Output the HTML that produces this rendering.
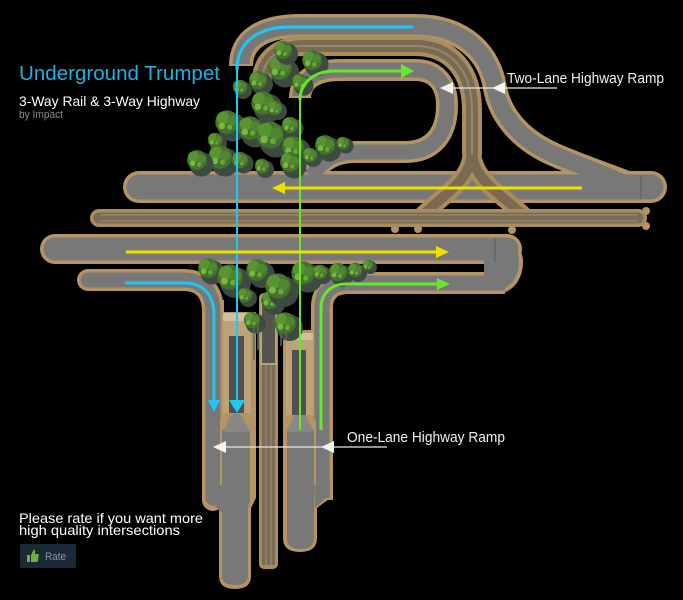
<!DOCTYPE html>
<html><head><meta charset="utf-8"><style>html,body{margin:0;padding:0;background:#000;}svg{display:block}</style></head>
<body>
<svg width="683" height="600" viewBox="0 0 683 600" xmlns="http://www.w3.org/2000/svg" font-family="'Liberation Sans', 'DejaVu Sans', sans-serif">
<defs>
<g id="tr">
<circle cx="4" cy="4" r="11" fill="#3d4a41"/>
<circle cx="0" cy="0" r="9" fill="#44742c"/>
<circle cx="-3" cy="-3" r="5" fill="#5a9432"/>
<circle cx="4" cy="-1" r="4" fill="#508631"/>
<circle cx="-4" cy="3" r="2.5" fill="#78b83e"/>
<circle cx="2" cy="4" r="2" fill="#6aa638"/>
</g>
</defs>
<rect width="683" height="600" fill="#000"/>

<!-- ===== TAN LAYER ===== -->
<g fill="none" stroke="#b39462">
  <line x1="139" y1="187" x2="651" y2="187" stroke-width="32" stroke-linecap="round"/>
  <path d="M241,66 C241,40 262,26 300,26 L415,26 C465,26 490,55 495,88 C500,115 520,140 555,155 C585,168 605,174 630,184" stroke-width="24"/>
  <path d="M300,98 C300,80 315,70 340,70 L415,70 C437,70 447,85 447,105 C447,135 432,152 405,152 L355,152 C335,152 322,160 312,174" stroke-width="22"/>
  <line x1="55" y1="249" x2="507" y2="249" stroke-width="30" stroke-linecap="round"/>
  <path d="M88,280 L183,280 C203,280 213,292 213,312 L213,500" stroke-width="22" stroke-linecap="round"/>
  <path d="M322,500 L322,307 C322,292 332,283 348,283 L505,283" stroke-width="22"/>
</g>
<path d="M484,234 L495,234 C515,234 523,250 523,262 C523,280 512,294 495,294 L484,294 Z" fill="#b39462"/>
<path d="M202,300 L224,300 L224,312 L256,312 L256,498 L251,508 L251,576 Q251,589 235,589 Q219,589 219,576 L219,510 L202,498 Z" fill="#b39462"/>
<path d="M283,330 L313,330 L313,300 L333,300 L333,496 L317,508 L317,538 Q317,552 300,552 Q283,552 283,538 Z" fill="#b39462"/>

<!-- ===== GRAY LAYER ===== -->
<g fill="none" stroke="#787878">
  <path d="M241,64 C241,40 262,26 300,26 L415,26 C465,26 490,55 495,88 C500,115 520,140 555,155 C585,168 605,174 630,186" stroke-width="17"/>
  <line x1="139" y1="187" x2="651" y2="187" stroke-width="25" stroke-linecap="round"/>
  <path d="M300,96 C300,80 315,70 340,70 L415,70 C437,70 447,85 447,105 C447,135 432,152 405,152 L355,152 C335,152 322,160 312,176" stroke-width="15"/>
  <line x1="55" y1="249" x2="507" y2="249" stroke-width="23" stroke-linecap="round"/>
  <path d="M88,280 L183,280 C203,280 213,292 213,312 L213,498" stroke-width="15" stroke-linecap="round"/>
  <path d="M322,498 L322,307 C322,292 332,283 348,283 L505,283" stroke-width="15"/>
</g>
<path d="M484,238 L495,238 C512,238 519,250 519,262 C519,277 510,290 495,290 L484,290 Z" fill="#787878"/>
<line x1="495" y1="238" x2="495" y2="262" stroke="#5d6a70" stroke-width="1.5"/>
<line x1="641" y1="175" x2="641" y2="199" stroke="#5d6a70" stroke-width="1.5"/>

<!-- stems gray -->
<path d="M222,430 L250,430 L250,500 L248,508 L248,576 Q248,585 235,585 Q222,585 222,576 Z" fill="#787878"/>
<path d="M206,480 L224,480 L224,512 L221,512 L206,497 Z" fill="#787878"/>
<path d="M224,432 L229,418 Q236,408 243,418 L250,432 Z" fill="#878787"/>
<rect x="223" y="313" width="28" height="100" fill="#bba47a"/>
<rect x="223" y="313" width="28" height="8" fill="#cfc0a0"/>
<rect x="229" y="336" width="15" height="77" fill="#505050"/>
<line x1="221" y1="420" x2="221" y2="485" stroke="#b39462" stroke-width="2"/>

<path d="M287,430 L314,430 L314,538 Q314,549 300,549 Q287,549 287,538 Z" fill="#787878"/>
<path d="M314,480 L330,480 L330,494 L315,508 Z" fill="#787878"/>
<path d="M287,432 L293,418 Q300,408 307,418 L314,432 Z" fill="#878787"/>
<rect x="286" y="333" width="27" height="82" fill="#bba47a"/>
<rect x="286" y="333" width="27" height="7" fill="#cfc0a0"/>
<rect x="292" y="350" width="14" height="65" fill="#505050"/>
<line x1="315" y1="420" x2="315" y2="485" stroke="#b39462" stroke-width="2"/>

<!-- center rail stem -->
<rect x="259" y="293" width="19" height="276" rx="5" fill="#a88d5e"/>
<rect x="262" y="365" width="13" height="200" fill="#7d6c55"/>
<line x1="266" y1="365" x2="266" y2="565" stroke="#9c8f7a" stroke-width="1"/>
<line x1="271" y1="365" x2="271" y2="565" stroke="#9c8f7a" stroke-width="1"/>
<rect x="261" y="296" width="15" height="68" fill="#55554d" stroke="#b8a27a" stroke-width="2"/>

<!-- ===== RAIL ===== -->
<g fill="none" stroke-linecap="butt">
  <path d="M262,80 C263,58 280,46 305,46 L415,46 C452,46 472,72 472,110 L472,155" stroke="#a88d5e" stroke-width="20"/>
  <path d="M472,150 C472,182 440,196 418,220" stroke="#a88d5e" stroke-width="18"/>
  <path d="M472,150 C472,182 506,196 528,220" stroke="#a88d5e" stroke-width="18"/>
  <path d="M262,80 C263,58 280,46 305,46 L415,46 C452,46 472,72 472,110 L472,155" stroke="#7b6a52" stroke-width="12"/>
  <path d="M472,150 C472,182 440,196 418,220" stroke="#7b6a52" stroke-width="10"/>
  <path d="M472,150 C472,182 506,196 528,220" stroke="#7b6a52" stroke-width="10"/>
  <path d="M262,80 C263,58 280,46 305,46 L415,46 C452,46 472,72 472,110 L472,155" stroke="#958670" stroke-width="2"/>
</g>
<circle cx="646" cy="211" r="4" fill="#b39462"/>
<circle cx="646" cy="226" r="4" fill="#b39462"/>
<circle cx="395" cy="229" r="4" fill="#b39462"/>
<circle cx="418" cy="229" r="4" fill="#b39462"/>
<circle cx="512" cy="230" r="4" fill="#b39462"/>
<line x1="99" y1="218" x2="638" y2="218" stroke="#a88d5e" stroke-width="18" stroke-linecap="round"/>
<line x1="99" y1="218" x2="638" y2="218" stroke="#7d6c55" stroke-width="11" stroke-linecap="round"/>
<line x1="100" y1="215" x2="638" y2="215" stroke="#9a8e7a" stroke-width="1"/>
<line x1="100" y1="221" x2="638" y2="221" stroke="#9a8e7a" stroke-width="1"/>

<!-- ===== TREES ===== -->
<g>
<use href="#tr" transform="translate(240,87) scale(0.8)"/>
<use href="#tr" transform="translate(258,80) scale(1.0)"/>
<use href="#tr" transform="translate(280,68) scale(1.3)"/>
<use href="#tr" transform="translate(283,50) scale(1.0)"/>
<use href="#tr" transform="translate(312,60) scale(1.1)"/>
<use href="#tr" transform="translate(300,82) scale(0.9)"/>
<use href="#tr" transform="translate(263,103) scale(1.3)"/>
<use href="#tr" transform="translate(275,108) scale(0.8)"/>
<use href="#tr" transform="translate(227,122) scale(1.3)"/>
<use href="#tr" transform="translate(250,128) scale(1.3)"/>
<use href="#tr" transform="translate(270,135) scale(1.5)"/>
<use href="#tr" transform="translate(290,125) scale(0.9)"/>
<use href="#tr" transform="translate(215,140) scale(0.8)"/>
<use href="#tr" transform="translate(293,147) scale(1.2)"/>
<use href="#tr" transform="translate(325,145) scale(1.1)"/>
<use href="#tr" transform="translate(343,143) scale(0.7)"/>
<use href="#tr" transform="translate(220,157) scale(1.3)"/>
<use href="#tr" transform="translate(197,160) scale(1.1)"/>
<use href="#tr" transform="translate(240,160) scale(0.9)"/>
<use href="#tr" transform="translate(262,166) scale(0.8)"/>
<use href="#tr" transform="translate(290,162) scale(1.1)"/>
<use href="#tr" transform="translate(310,155) scale(0.8)"/>

<use href="#tr" transform="translate(208,268) scale(1.1)"/>
<use href="#tr" transform="translate(230,277) scale(1.4)"/>
<use href="#tr" transform="translate(257,270) scale(1.2)"/>
<use href="#tr" transform="translate(245,295) scale(0.8)"/>
<use href="#tr" transform="translate(270,300) scale(1.0)"/>
<use href="#tr" transform="translate(278,286) scale(1.4)"/>
<use href="#tr" transform="translate(303,273) scale(1.3)"/>
<use href="#tr" transform="translate(320,272) scale(0.8)"/>
<use href="#tr" transform="translate(338,272) scale(1.0)"/>
<use href="#tr" transform="translate(355,270) scale(0.8)"/>
<use href="#tr" transform="translate(368,265) scale(0.6)"/>
<use href="#tr" transform="translate(252,320) scale(0.9)"/>
<use href="#tr" transform="translate(285,323) scale(1.2)"/>
</g>
<g stroke="#5d6a58" stroke-width="1.5">
<line x1="254" y1="325" x2="254" y2="360"/>
<line x1="258" y1="325" x2="258" y2="350"/>
<line x1="281" y1="330" x2="281" y2="346"/>
<line x1="286" y1="330" x2="286" y2="340"/>
</g>

<!-- ===== ARROWS ===== -->
<g fill="none" stroke-linecap="butt">
  <path d="M413,27 L290,27 C258,27 237,42 237,70" stroke="#1ec8f0" stroke-width="3"/>
  <line x1="237" y1="70" x2="237" y2="402" stroke="#1ec8f0" stroke-width="2"/>
  <path d="M125,283 L185,283 C203,283 214,295 214,315 L214,402" stroke="#1ec8f0" stroke-width="3"/>
  <line x1="300" y1="100" x2="300" y2="430" stroke="#66e82a" stroke-width="2"/>
  <path d="M300,100 C300,82 315,71 335,71 L402,71" stroke="#66e82a" stroke-width="3"/>
  <path d="M321,430 L321,308 C321,294 331,284 346,284 L438,284" stroke="#66e82a" stroke-width="3"/>
  <line x1="126" y1="252" x2="437" y2="252" stroke="#f0e000" stroke-width="3"/>
  <line x1="582" y1="188" x2="284" y2="188" stroke="#f0e000" stroke-width="3"/>
</g>
<polygon points="229,400 245,400 237,413" fill="#1ec8f0"/>
<polygon points="208,400 220,400 214,412" fill="#1ec8f0"/>
<polygon points="401,64 414,71 401,78" fill="#66e82a"/>
<polygon points="437,278 450,284 437,290" fill="#66e82a"/>
<polygon points="436,246 449,252 436,258" fill="#f0e000"/>
<polygon points="285,182 272,188 285,194" fill="#f0e000"/>

<!-- ===== CALLOUTS ===== -->
<line x1="450" y1="88" x2="557" y2="88" stroke="#e6e6e6" stroke-width="1.2"/>
<polygon points="440,88 453,82 453,94" fill="#f4f4f4"/>
<polygon points="492,88 505,82 505,94" fill="#f4f4f4"/>
<text x="507" y="83" font-size="14.5" fill="#f0f0f0" textLength="157" lengthAdjust="spacingAndGlyphs">Two-Lane Highway Ramp</text>

<line x1="224" y1="447" x2="387" y2="447" stroke="#e6e6e6" stroke-width="1.2"/>
<polygon points="213,447 226,441 226,453" fill="#f4f4f4"/>
<polygon points="321,447 334,441 334,453" fill="#f4f4f4"/>
<text x="347" y="442" font-size="14.5" fill="#f0f0f0" textLength="158" lengthAdjust="spacingAndGlyphs">One-Lane Highway Ramp</text>

<!-- ===== TITLES ===== -->
<text x="19" y="80" font-size="20" fill="#1cb2e4" textLength="201" lengthAdjust="spacingAndGlyphs">Underground Trumpet</text>
<text x="19" y="106" font-size="14" fill="#ffffff" textLength="181" lengthAdjust="spacingAndGlyphs">3-Way Rail &amp; 3-Way Highway</text>
<text x="19" y="118" font-size="11" fill="#8c8c8c" textLength="44" lengthAdjust="spacingAndGlyphs">by Impact</text>

<text x="19" y="523" font-size="13.6" fill="#ffffff" textLength="184" lengthAdjust="spacingAndGlyphs">Please rate if you want more</text>
<text x="19" y="535" font-size="13.6" fill="#ffffff" textLength="161" lengthAdjust="spacingAndGlyphs">high quality intersections</text>

<rect x="20" y="544" width="56" height="24" rx="2" fill="#1c2a38"/>
<path d="M27,555 L30,555 L30,562 L27,562 Z M31,555 L33,551 Q34,549 35,550 L35,554 L38,554 Q39.5,555 38.5,556 L38,561 Q37.5,562 36,562 L31,562 Z" fill="#6cb33f"/>
<text x="45" y="560" font-size="11" fill="#8a98a6" textLength="21" lengthAdjust="spacingAndGlyphs">Rate</text>
</svg>
</body></html>
